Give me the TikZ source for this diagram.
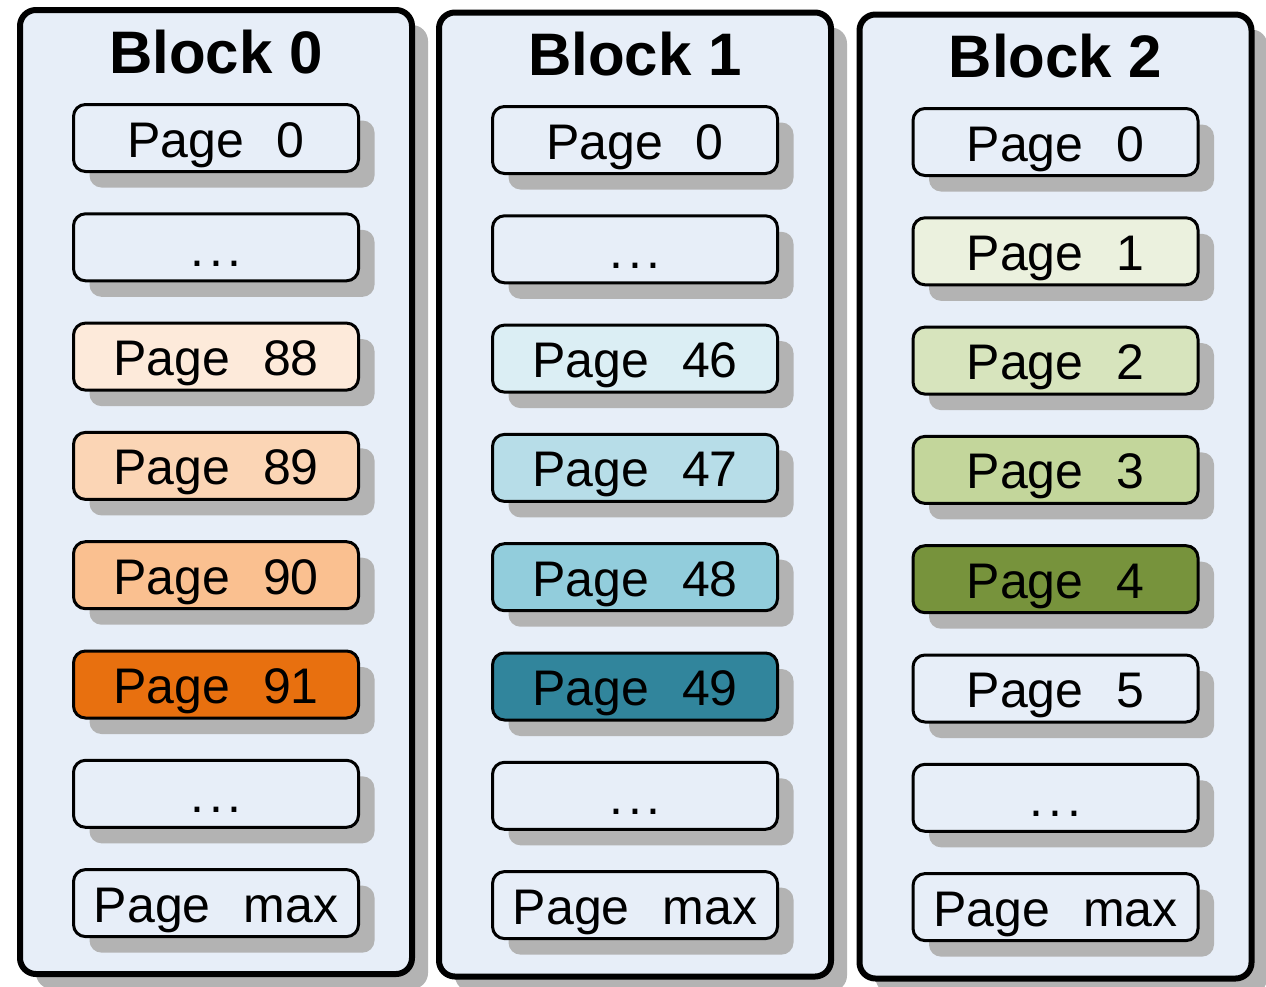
\documentclass[tikz,border=0pt]{standalone}
\usepackage{fontspec}
\setmainfont{Liberation Sans}
\usetikzlibrary{shadows}

\definecolor{blockbg}{HTML}{E7EEF8}
\definecolor{shade}{HTML}{B3B3B3}
\definecolor{orgA}{HTML}{FDEADA}
\definecolor{orgB}{HTML}{FBD5B5}
\definecolor{orgC}{HTML}{FAC090}
\definecolor{orgD}{HTML}{E8700F}
\definecolor{tealA}{HTML}{DBEEF4}
\definecolor{tealB}{HTML}{B7DDE8}
\definecolor{tealC}{HTML}{92CDDC}
\definecolor{tealD}{HTML}{31859C}
\definecolor{grnA}{HTML}{EBF1DE}
\definecolor{grnB}{HTML}{D7E4BD}
\definecolor{grnC}{HTML}{C3D69B}
\definecolor{grnD}{HTML}{77933C}

\tikzset{
  blockbox/.style={draw, line width=6pt, rounded corners=16pt, fill=blockbg,
    minimum width=392pt, minimum height=964pt, inner sep=0pt,
    drop shadow={shadow xshift=16pt, shadow yshift=-15pt, fill=shade, opacity=1}},
  blocktitle/.style={font=\bfseries\fontsize{60}{72}\selectfont,
    text height=43pt, text depth=0pt, inner sep=0pt},
  pagebox/.style={draw, line width=3pt, rounded corners=12pt,
    minimum width=285pt, minimum height=67pt, inner sep=0pt,
    text height=38pt, text depth=0pt, font=\fontsize{50}{60}\selectfont,
    drop shadow={shadow xshift=16pt, shadow yshift=-16pt, fill=shade, opacity=1}}
}
\newcommand{\pg}[1]{Page\hspace{33pt}#1}
\newcommand{\skipped}{.\kern5pt.\kern5pt.}

\begin{document}
\begin{tikzpicture}[x=1pt, y=-1pt]
\useasboundingbox (0,0) rectangle (1266,986);

% Block 0
\node[blockbox] (blk0) at (216,492) {};
\node[blocktitle] (blk0title) at (216,52) {Block 0};
\foreach \i/\lbl/\clr in {0/\pg{0}/blockbg, 1/\skipped/blockbg, 2/\pg{88}/orgA, 3/\pg{89}/orgB,
    4/\pg{90}/orgC, 5/\pg{91}/orgD, 6/\skipped/blockbg, 7/\pg{max}/blockbg}
  \node[pagebox, fill=\clr] (b0p\i) at (216,138+109.3*\i) {\lbl};

% Block 1
\node[blockbox] (blk1) at (635,494.5) {};
\node[blocktitle] (blk1title) at (635,54) {Block 1};
\foreach \i/\lbl/\clr in {0/\pg{0}/blockbg, 1/\skipped/blockbg, 2/\pg{46}/tealA, 3/\pg{47}/tealB,
    4/\pg{48}/tealC, 5/\pg{49}/tealD, 6/\skipped/blockbg, 7/\pg{max}/blockbg}
  \node[pagebox, fill=\clr] (b1p\i) at (635,140+109.3*\i) {\lbl};

% Block 2
\node[blockbox] (blk2) at (1055.5,496.5) {};
\node[blocktitle] (blk2title) at (1055.5,56) {Block 2};
\foreach \i/\lbl/\clr in {0/\pg{0}/blockbg, 1/\pg{1}/grnA, 2/\pg{2}/grnB, 3/\pg{3}/grnC,
    4/\pg{4}/grnD, 5/\pg{5}/blockbg, 6/\skipped/blockbg, 7/\pg{max}/blockbg}
  \node[pagebox, fill=\clr] (b2p\i) at (1055.5,142+109.3*\i) {\lbl};
\end{tikzpicture}
\end{document}
